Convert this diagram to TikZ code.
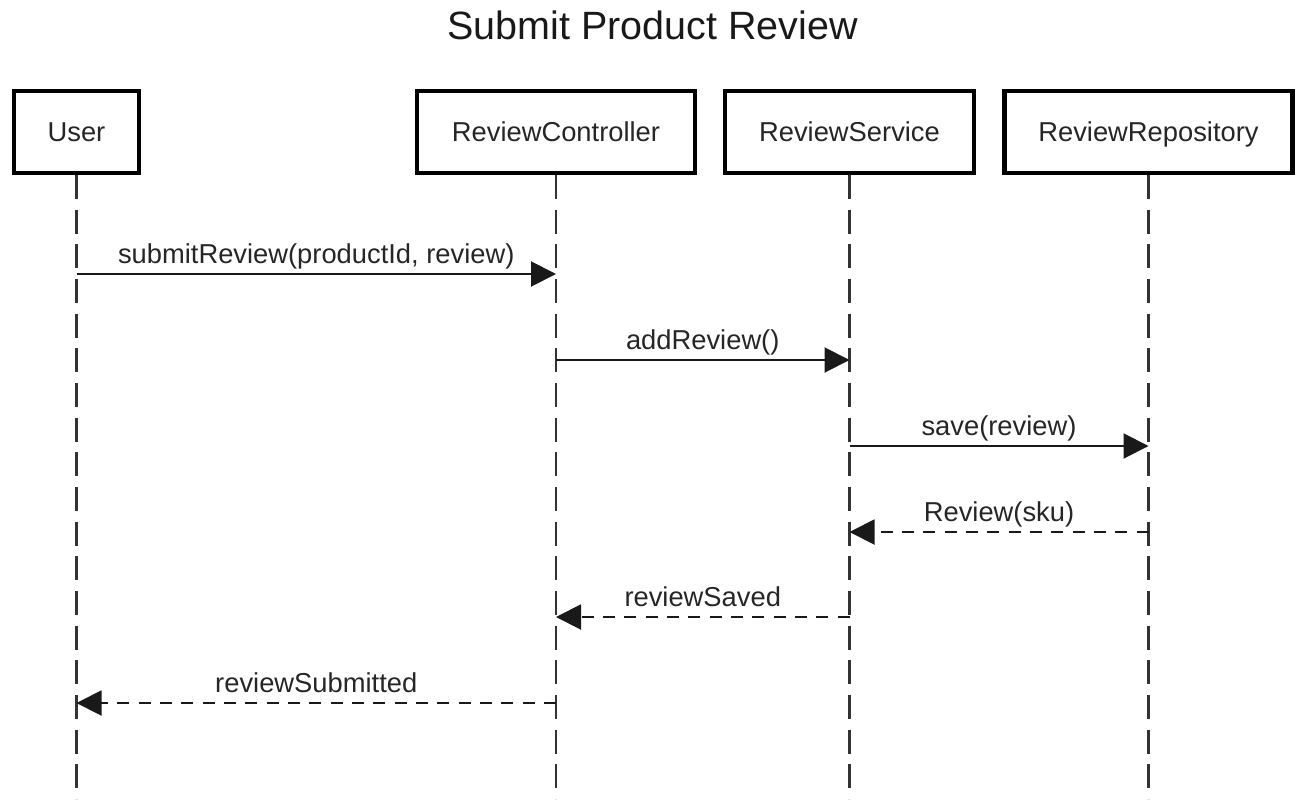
\documentclass[tikz,border=0pt]{standalone}
\usepackage{fontspec}
\setmainfont{Liberation Sans}
\usetikzlibrary{arrows.meta}

\newcommand{\msgfont}{\fontsize{20.5}{24}\selectfont}

\tikzset{
  actor/.style={draw=black, line width=3.2pt, fill=white, inner sep=0pt,
    text height=14.7pt, text depth=0pt, font=\msgfont, text=black!85},
  lifeline/.style={draw=black!80, line width=1.7pt, dash pattern=on 18pt off 8pt},
  call/.style={draw=black!90, line width=1.5pt,
    -{Triangle[length=18.75pt,width=18.75pt]}},
  reply/.style={call, dash pattern=on 9pt off 7pt},
  msglabel/.style={midway, anchor=base, yshift=8.25pt, inner sep=0pt,
    font=\msgfont, text=black!85}
}

\begin{document}
\begin{tikzpicture}[x=0.75pt,y=0.75pt,yscale=-1,xscale=1]
\useasboundingbox (0,0) rectangle (1301,799);

% Title
\node (title) [anchor=base, inner sep=0pt, font=\fontsize{29.6}{34}\selectfont, text=black!90] at (652.5,40) {Submit Product Review};

%Lifelines
\draw [lifeline] (76.5,175) -- (76.5,799);
\draw [lifeline] (556,175) -- (556,799);
\draw [lifeline] (849.5,175) -- (849.5,799);
\draw [lifeline] (1148.5,175) -- (1148.5,799);

%Shape: Rectangle
\node (user) [actor, minimum width=93.75pt, minimum height=61.5pt] at (76.5,132) {User};
%Shape: Rectangle
\node (ctrl) [actor, minimum width=208.5pt, minimum height=61.5pt] at (556,132) {ReviewController};
%Shape: Rectangle
\node (svc) [actor, minimum width=186.75pt, minimum height=61.5pt] at (849.5,132) {ReviewService};
%Shape: Rectangle
\node (repo) [actor, minimum width=216pt, minimum height=61.5pt] at (1148.5,132) {ReviewRepository};

% message rows
\coordinate (r1) at (0,274);
\coordinate (r2) at (0,360);
\coordinate (r3) at (0,446);
\coordinate (r4) at (0,532);
\coordinate (r5) at (0,617);
\coordinate (r6) at (0,703);

%Straight Lines
\draw [call] (user |- r1) -- node [msglabel] (m1) {submitReview(productId, review)} (ctrl |- r1);
%Straight Lines
\draw [call] (ctrl |- r2) -- node [msglabel] (m2) {addReview()} (svc |- r2);
%Straight Lines
\draw [call] (svc |- r3) -- node [msglabel] (m3) {save(review)} (repo |- r3);
%Straight Lines
\draw [reply] (repo |- r4) -- node [msglabel] (m4) {Review(sku)} (svc |- r4);
%Straight Lines
\draw [reply] (svc |- r5) -- node [msglabel] (m5) {reviewSaved} (ctrl |- r5);
%Straight Lines
\draw [reply] (ctrl |- r6) -- node [msglabel] (m6) {reviewSubmitted} (user |- r6);

\end{tikzpicture}
\end{document}
